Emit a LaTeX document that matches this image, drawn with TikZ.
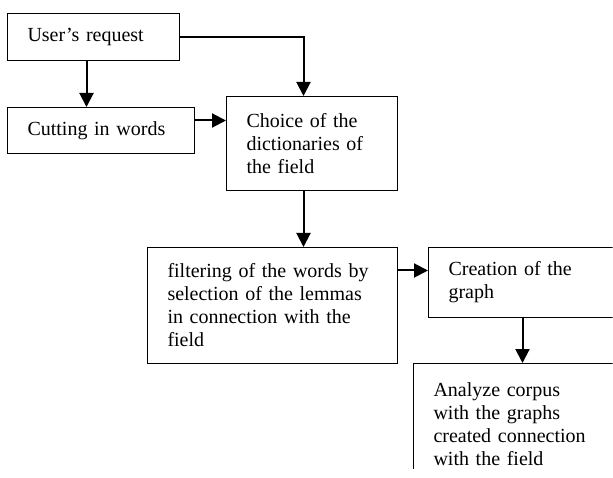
\documentclass[tikz,border=0pt]{standalone}
\usepackage{fontspec}
\setmainfont{Liberation Serif}
\usetikzlibrary{arrows.meta}

\begin{document}
\begin{tikzpicture}[x=1pt,y=-1pt,>={Triangle[length=14pt,width=14pt]},
	box/.style={draw, rectangle, line width=1pt, anchor=north west, inner xsep=20pt, inner ysep=0pt, align=left, font=\fontsize{20}{23}\selectfont},
	arr/.style={->, line width=2pt}]
	\useasboundingbox (0,0) rectangle (613,478);
	\clip (0,0) rectangle (612.6,468);

	% left column
	\node[box, text width=132pt, minimum height=47pt] (user) at (7,13) {User’s request};
	\node[box, text width=147pt, minimum height=46pt] (cut) at (7,107) {Cutting in words};

	% dictionaries
	\node[box, text width=131pt, minimum height=94pt] (choice) at (226,96) {Choice of the\\dictionaries of\\the field};

	% filtering and graph
	\node[box, text width=210pt, minimum height=116pt] (filter) at (147,247) {filtering of the words by\\selection of the lemmas\\in connection with the\\field};
	\node[box, text width=160pt, minimum height=70pt] (create) at (428,247) {Creation of the\\graph};
	\node[box, text width=180pt, minimum height=121pt] (analyze) at (413,363) {Analyze corpus\\with the graphs\\created connection\\with the field};

	% connectors
	\coordinate (us) at ([xshift=-7pt]user.south);
	\coordinate (cn) at ([xshift=-8.5pt]choice.north);
	\coordinate (cs) at ([xshift=-8.5pt]choice.south);
	\coordinate (ce) at ([yshift=10pt]cut.east);
	\coordinate (gw) at ([yshift=12pt]create.west);
	\coordinate (gs) at ([xshift=-6pt]create.south);
	\draw[arr] (us) -- (us |- cut.north);
	\draw[arr] (user.east) -| (cn);
	\draw[arr] (ce) -- (ce -| choice.west);
	\draw[arr] (cs) -- (cs |- filter.north);
	\draw[arr] (gw -| filter.east) -- (gw);
	\draw[arr] (gs) -- (gs |- analyze.north);
\end{tikzpicture}
\end{document}
